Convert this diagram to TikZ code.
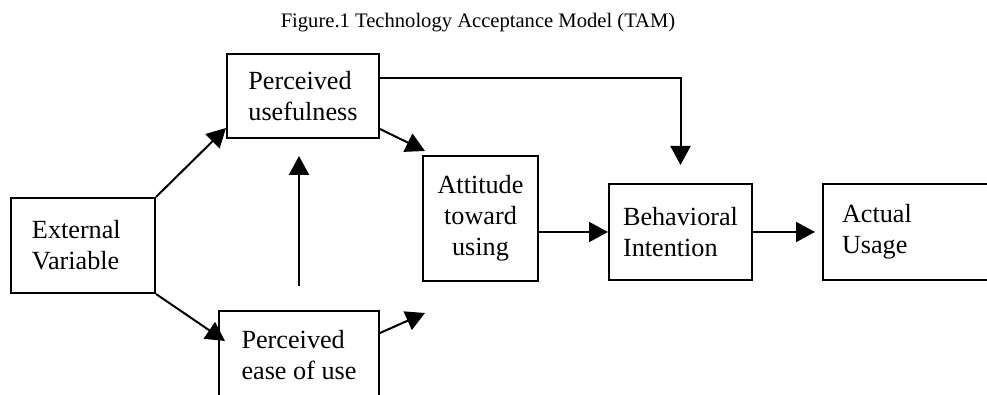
\documentclass[tikz,border=0pt]{standalone}
\usepackage{fontspec}
\setmainfont{Liberation Serif}
\usetikzlibrary{arrows.meta}
\tikzset{
  blk/.style={draw, line width=1pt, inner sep=0pt, align=left, font=\fontsize{13.1pt}{15.5pt}\selectfont},
}
\begin{document}
\begin{tikzpicture}[x=0.5pt, y=-0.5pt, line width=1pt, >={Triangle[length=9.5pt,width=10pt]}]
\useasboundingbox (0,0) rectangle (987,395);
\clip (0,0) rectangle (987,395);
\node[anchor=base, font=\fontsize{10.3pt}{12pt}\selectfont] (title) at (478,28) {Figure.1 Technology Acceptance Model (TAM)};
% boxes
\node[blk, minimum width=72pt, minimum height=47.5pt, text width=51pt] (ExtVar) at (83,245.5) {External\\Variable};
\node[blk, minimum width=76pt, minimum height=42pt] (PU) at (303,96) {Perceived\\usefulness};
\node[blk, minimum width=80pt, minimum height=44pt] (PEOU) at (299,355) {Perceived\\ease of use};
\node[blk, minimum width=57.5pt, minimum height=62.5pt, align=center] (Att) at (480.5,218.5) {Attitude\\toward\\using};
\node[blk, minimum width=71.5pt, minimum height=48pt] (BI) at (680.5,232) {Behavioral\\Intention};
\node[blk, minimum width=88.5pt, minimum height=48pt, text width=69.5pt] (AU) at (911.5,232) {Actual\\Usage};
% arrows
\draw[->] (ExtVar.north east) -- ([yshift=5.5pt]PU.south west);
\draw[->] (ExtVar.south east) -- ([xshift=3.5pt,yshift=-15.5pt]PEOU.north west);
\draw[->] ([yshift=12pt]PEOU.north) -- ++(0,-130);
\draw[->] ([yshift=5pt]PU.south east) -- ([xshift=1.5pt,yshift=2pt]Att.north west);
\draw[->] ([yshift=-11.5pt]PEOU.north east) -- ([xshift=1.5pt,yshift=-15.5pt]Att.south west);
\draw[->] ([yshift=-12.5pt]PU.north east) -| ([yshift=9pt]BI.north);
\draw[->] (Att.east |- BI.west) -- (BI.west);
\draw[->] (BI.east) -- ([xshift=-3.5pt]AU.west);
\end{tikzpicture}
\end{document}
